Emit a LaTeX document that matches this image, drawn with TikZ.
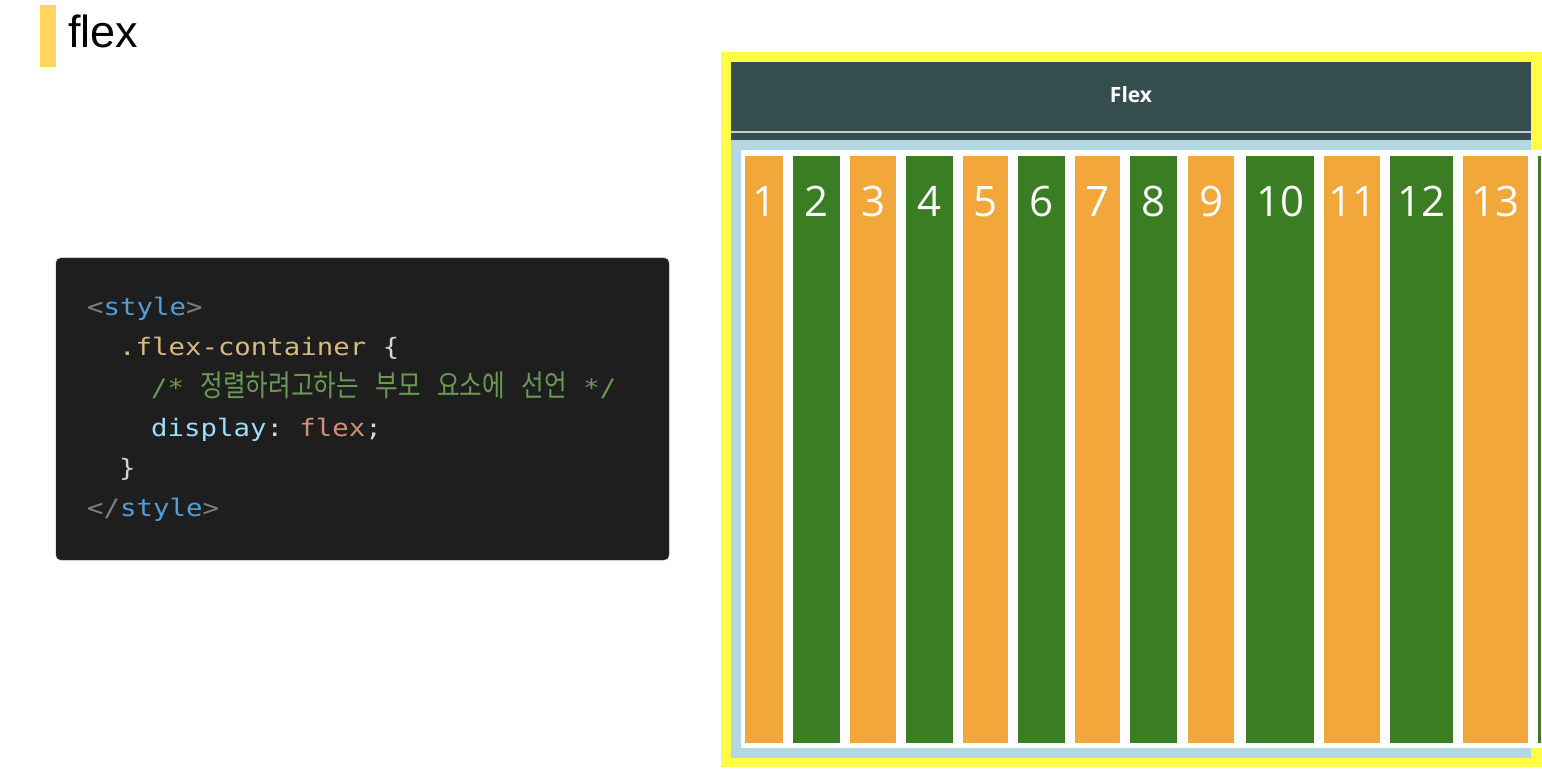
\documentclass[tikz,border=0pt]{standalone}
\usepackage{fontspec}
\setmainfont{Liberation Sans}
\setmonofont{DejaVu Sans Mono}[FakeStretch=1.14]
\newfontfamily\krfont{Noto Sans CJK KR}[FakeStretch=0.82]
\newfontfamily\numfont{Open Sans}
\usetikzlibrary{calc,positioning}
\definecolor{titlebar}{HTML}{FFD65C}
\definecolor{codebg}{HTML}{1E1E1E}
\definecolor{tag}{HTML}{808080}
\definecolor{kw}{HTML}{569CD6}
\definecolor{sel}{HTML}{D7BA7D}
\definecolor{punc}{HTML}{D4D4D4}
\definecolor{cmt}{HTML}{6A9955}
\definecolor{prop}{HTML}{9CDCFE}
\definecolor{val}{HTML}{CE9178}
\definecolor{yellowbd}{HTML}{FFFB47}
\definecolor{header}{HTML}{364E4F}
\definecolor{sepline}{HTML}{C8CCCC}
\definecolor{lightbd}{HTML}{B4D8E2}
\definecolor{itemo}{HTML}{F2A73B}
\definecolor{itemg}{HTML}{3A7D22}
\newcommand\hangul[1]{{\krfont\fontsize{30}{30}\selectfont#1}}

\begin{document}
\begin{tikzpicture}[x=1pt,y=-1pt,line join=round,
 code/.style={anchor=base west,inner sep=0pt,font=\ttfamily\fontsize{24}{28}\selectfont},
 num/.style={anchor=base,inner sep=0pt,text=white,font=\numfont\fontsize{42}{42}\selectfont}]
\fill[white] (0,0) rectangle (1542,775);
\useasboundingbox (0,0) rectangle (1542,775);
% title
\fill[titlebar] (40,5) rectangle (56,67);
\node[anchor=base west,inner sep=0pt,font=\fontsize{45}{45}\selectfont] (title) at (68,48) {flex};
% code block
\draw[black!75,fill=codebg,rounded corners=5pt] (56,258) rectangle (669,560);
\node[code] (l1) at (87,316) {\textcolor{tag}{<}\textcolor{kw}{style}\textcolor{tag}{>}};
\node[code] (l2) at (119,356) {\textcolor{sel}{.flex-container} \textcolor{punc}{\{}};
\node[code,text=cmt] (l3) at (151,396) {/* \hangul{정렬하려고하는} \hangul{부모} \hangul{요소에} \hangul{선언} */};
\node[code] (l4) at (151,436) {\textcolor{prop}{display}\textcolor{punc}{:} \textcolor{val}{flex}\textcolor{punc}{;}};
\node[code,text=punc] (l5) at (119,476) {\}};
\node[code] (l6) at (87,516) {\textcolor{tag}{</}\textcolor{kw}{style}\textcolor{tag}{>}};
% flex box
\fill[yellowbd] (721,52) rectangle (1542,767);
\fill[lightbd] (731,140) rectangle (1531,758);
\fill[header] (731,62) rectangle (1531,140);
\fill[sepline] (731,131) rectangle (1531,133);
\node[anchor=base,inner sep=0pt,text=white,font=\numfont\bfseries\fontsize{21}{21}\selectfont] (head) at (1131,103) {Flex};
\fill[white] (741,150) rectangle (1542,748);
\foreach \n/\a/\b/\c in {1/745/783/itemo,2/793/840/itemg,3/850/896/itemo,4/906/953/itemg,5/963/1008/itemo,6/1018/1065/itemg,7/1075/1120/itemo,8/1130/1177/itemg,9/1188/1234/itemo,10/1246/1314/itemg,11/1324/1380/itemo,12/1390/1453/itemg,13/1463/1528/itemo}{
\fill[\c] (\a,156) rectangle (\b,743);
\node[num] (n\n) at ({(\a+\b)/2},217) {\n};}
\fill[itemg] (1538,156) rectangle (1541,743);
\end{tikzpicture}
\end{document}
